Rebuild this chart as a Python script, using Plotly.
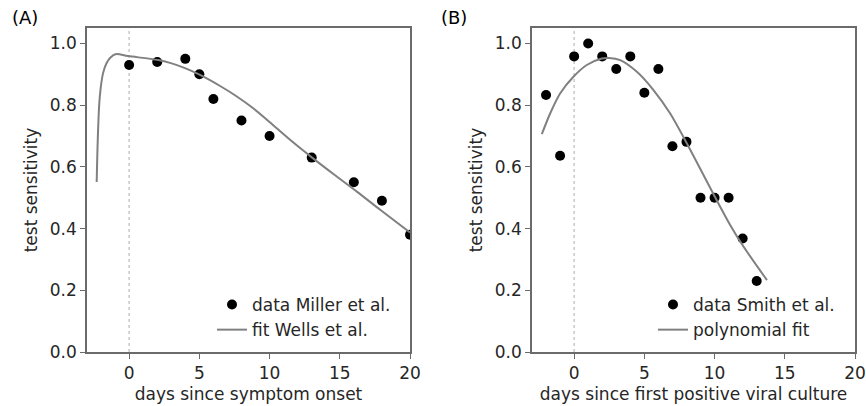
import plotly.graph_objects as go

# panel A: data Miller et al. + fit Wells et al.
miller_days = [0, 2, 4, 5, 6, 8, 10, 13, 16, 18, 20]
miller_sens = [0.93, 0.94, 0.95, 0.90, 0.82, 0.75, 0.70, 0.63, 0.55, 0.49, 0.38]

wells_days = [-2.31, -2.21, -2.09, -1.86, -1.62, -1.31, -0.97, -0.07, 2.07, 2.91, 3.98,
              5.05, 6.48, 7.67, 8.86, 9.93, 11.48, 13.03, 14.57, 16.24, 17.9, 20.0]
wells_sens = [0.551, 0.719, 0.827, 0.903, 0.935, 0.955, 0.965, 0.959, 0.946, 0.937, 0.920,
              0.898, 0.862, 0.828, 0.789, 0.748, 0.687, 0.630, 0.576, 0.519, 0.460, 0.387]

# panel B: data Smith et al. + polynomial fit
smith_days = [-2, -1, 0, 1, 2, 3, 4, 5, 6, 7, 8, 9, 10, 11, 12, 13]
smith_sens = [0.833, 0.636, 0.958, 1.0, 0.958, 0.917, 0.958, 0.84, 0.917, 0.667,
              0.681, 0.50, 0.50, 0.50, 0.368, 0.23]

poly_days = [-2.30, -1.71, -1.0, -0.05, 0.90, 1.97, 2.5, 3.28, 4.47, 5.65, 6.84,
             8.03, 9.22, 10.0, 11.12, 12.07, 13.73]
poly_sens = [0.706, 0.773, 0.838, 0.892, 0.930, 0.951, 0.953, 0.946, 0.908, 0.849, 0.773,
             0.676, 0.573, 0.505, 0.411, 0.341, 0.233]

x_ticks = [0, 5, 10, 15, 20]
y_ticks = [0.0, 0.2, 0.4, 0.6, 0.8, 1.0]

TXT = "#262626"
SPINE = "#6b6b6b"
FIT = "#808080"

fig = go.Figure()

fig.add_trace(go.Scatter(x=miller_days, y=miller_sens, mode="markers", name="data Miller et al.",
                         marker=dict(size=10, color="black"), xaxis="x", yaxis="y", legend="legend"))
fig.add_trace(go.Scatter(x=wells_days, y=wells_sens, mode="lines", name="fit Wells et al.",
                         line=dict(color=FIT, width=2, shape="spline", smoothing=1.0),
                         xaxis="x", yaxis="y", legend="legend"))
fig.add_trace(go.Scatter(x=smith_days, y=smith_sens, mode="markers", name="data Smith et al.",
                         marker=dict(size=10, color="black"), xaxis="x2", yaxis="y2", legend="legend2"))
fig.add_trace(go.Scatter(x=poly_days, y=poly_sens, mode="lines", name="polynomial fit",
                         line=dict(color=FIT, width=2, shape="spline", smoothing=0.8),
                         xaxis="x2", yaxis="y2", legend="legend2"))

W, H = 866, 406
dom_y = [(H - 352) / H, (H - 28) / H]

axis_common = dict(
    showgrid=False, zeroline=False, showline=True, mirror=True, automargin=False,
    linecolor=SPINE, linewidth=1.5, ticks="outside", ticklen=5, tickwidth=1.2,
    tickcolor=SPINE, tickfont=dict(size=17, color=TXT),
)

for xa, ya, dx, xtitle in [("xaxis", "yaxis", [87 / W, 410 / W], "days since symptom onset"),
                           ("xaxis2", "yaxis2", [532 / W, 855 / W], "days since first positive viral culture")]:
    anchor_y = "y" if ya == "yaxis" else "y2"
    anchor_x = "x" if xa == "xaxis" else "x2"
    fig.layout[xa] = dict(axis_common, domain=dx, range=[-3, 20], tickvals=x_ticks,
                          anchor=anchor_y,
                          title=dict(text=xtitle, font=dict(size=17, color=TXT), standoff=6))
    fig.layout[ya] = dict(axis_common, domain=dom_y, range=[0, 1.05], tickvals=y_ticks,
                          tickformat=".1f", anchor=anchor_x,
                          title=dict(text="test sensitivity", font=dict(size=17, color=TXT), standoff=8))

# dotted vertical line at day 0
for xr, yr in [("x", "y"), ("x2", "y2")]:
    fig.add_shape(type="line", x0=0, x1=0, y0=0, y1=1.05, xref=xr, yref=yr,
                  line=dict(color="#c8c8c8", width=1.5, dash="dot"), layer="below")

fig.add_annotation(text="(A)", x=10 / W, y=1 - 17 / H, xref="paper", yref="paper",
                   xanchor="left", yanchor="middle", showarrow=False,
                   font=dict(size=18, color="black"))
fig.add_annotation(text="(B)", x=439 / W, y=1 - 17 / H, xref="paper", yref="paper",
                   xanchor="left", yanchor="middle", showarrow=False,
                   font=dict(size=18, color="black"))

legend_common = dict(bgcolor="rgba(0,0,0,0)", font=dict(size=17, color=TXT),
                     xanchor="left", yanchor="top", itemwidth=30)

fig.update_layout(
    width=W, height=H,
    margin=dict(l=0, r=0, t=0, b=0, autoexpand=False),
    paper_bgcolor="white", plot_bgcolor="white",
    font=dict(family="DejaVu Sans", size=17, color=TXT),
    legend=dict(legend_common, x=212 / W, y=(H - 287) / H),
    legend2=dict(legend_common, x=653 / W, y=(H - 287) / H),
)

# page flush with the window, no scrollbars, no modebar
fig.write_html(
    "out.html",
    config={"displayModeBar": False},
    post_script="document.body.style.margin='0';"
                "document.body.style.overflow='hidden';"
                "document.documentElement.style.overflow='hidden';",
)
